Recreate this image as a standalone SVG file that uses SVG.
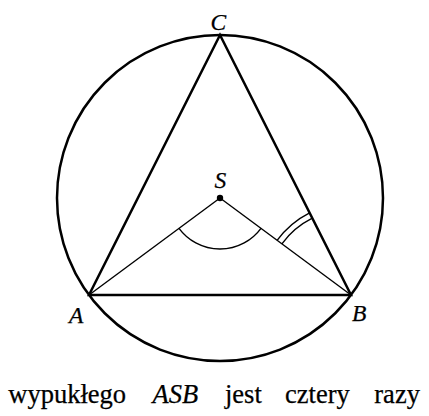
<svg xmlns="http://www.w3.org/2000/svg" width="429" height="416" viewBox="0 0 429 416">
<style>
.thick{fill:none;stroke:#000;stroke-width:2.5;stroke-linejoin:miter}
.thin{fill:none;stroke:#000;stroke-width:1.4}
.lbl{font-family:"Liberation Serif", serif;font-style:italic;font-size:23.5px;fill:#000;stroke:#000;stroke-width:0.25}
.txt{font-family:"Liberation Serif", serif;font-size:26.5px;fill:#000;stroke:#000;stroke-width:0.25}
</style>
<rect width="429" height="416" fill="#fff"/>
<g id="circle"><circle class="thick" cx="220" cy="198" r="163"/></g>
<g id="connectors">
<polygon id="triangle" class="thick" points="89,295 351,295 220,35"/>
<line class="thin" x1="220" y1="198" x2="89" y2="295"/>
<line class="thin" x1="220" y1="198" x2="351" y2="295"/>
<path id="angleS" class="thin" d="M179,228.35 A51,51 0 0 0 261,228.35"/>
<path id="angleB1" class="thin" d="M277.1,240.3 A92,92 0 0 1 309.6,212.8"/>
<path id="angleB2" class="thin" d="M281.9,243.8 A86,86 0 0 1 312.3,218.2"/>
</g>
<g id="node-S"><circle cx="220" cy="198" r="3.2" fill="#000"/><text class="lbl" x="214.5" y="188">S</text></g>
<g id="node-C"><text class="lbl" x="210.5" y="29.5">C</text></g>
<g id="node-A"><text class="lbl" x="69" y="322.5">A</text></g>
<g id="node-B"><text class="lbl" x="352" y="320.5">B</text></g>
<g id="caption">
<text class="txt" x="8.3" y="403.3">wypukłego</text>
<text class="txt" x="152.5" y="403.3" font-style="italic">ASB</text>
<text class="txt" x="225" y="403.3">jest</text>
<text class="txt" x="285" y="403.3">cztery</text>
<text class="txt" x="374.3" y="403.3">razy</text>
</g>
</svg>
